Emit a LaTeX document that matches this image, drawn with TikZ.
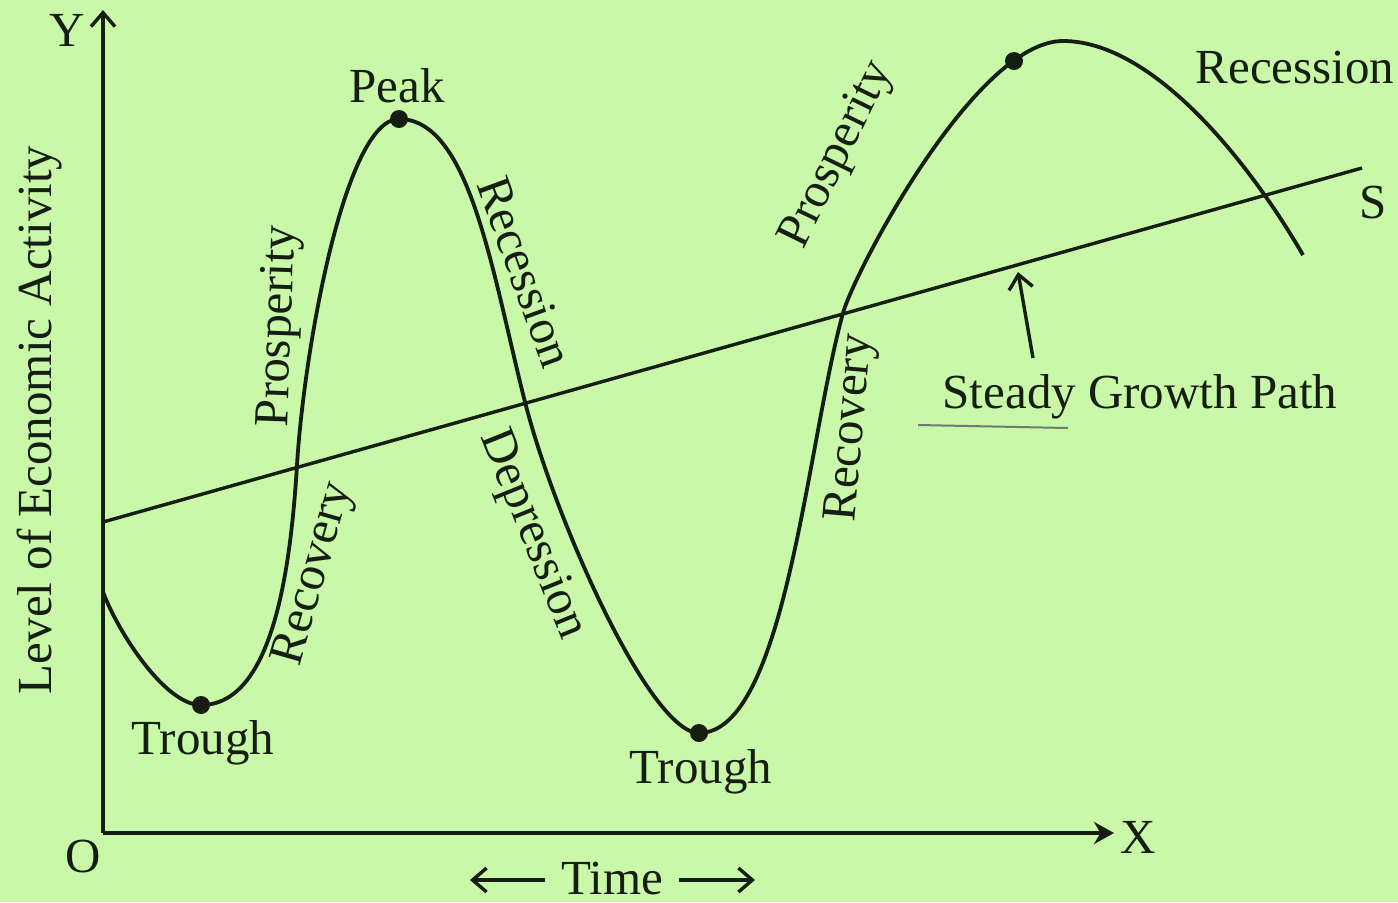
\documentclass[tikz,border=0pt]{standalone}
\usepackage{fontspec}
\setmainfont{Liberation Serif}
\usetikzlibrary{arrows.meta}
\definecolor{bg}{RGB}{200,248,168}
\definecolor{ink}{RGB}{22,30,20}
\begin{document}
\begin{tikzpicture}[x=0.5pt,y=-0.5pt,
  lbl/.style={font=\fontsize{24.5}{28}\selectfont, text=ink, inner sep=0pt},
  dot/.style={circle, fill=ink, inner sep=0pt, minimum size=9pt},
  curve/.style={draw=ink, line width=1.9pt},
  thinline/.style={draw=ink, line width=1.7pt},
  axis/.style={draw=ink, line width=2.2pt},
  barb/.style={-{Straight Barb[length=7pt,width=12pt,line width=1.7pt]}}]
\fill[bg] (0,0) rectangle (1398,902);
\useasboundingbox (0,0) rectangle (1398,902);

% axes
\coordinate (O) at (103,833);
\coordinate (Ytip) at (103,10);
\coordinate (Xtip) at (1114,833);
\draw[axis,barb] (O) -- (Ytip);
\draw[axis,-{Stealth[length=10pt,width=11pt]}] (O) -- (Xtip);
\node[lbl] (Ylab) at (67,30) {Y};
\node[lbl] (Xlab) at (1138,837) {X};
\node[lbl] (Olab) at (83,856) {O};
\node[lbl, rotate=90] (ylab) at (40,420) {Level of Economic Activity};

% time
\node[lbl] (time) at (612,878) {Time};
\coordinate (tl) at (470,880);
\coordinate (tr) at (755,880);
\draw[thinline,barb] ([xshift=-8pt,yshift=-1pt]time.west) -- (tl);
\draw[thinline,barb] ([xshift=8pt,yshift=-1pt]time.east) -- (tr);

% steady growth path
\coordinate (S0) at (103,522);
\coordinate (S1) at (1362,168);
\draw[thinline] (S0) -- (S1);
\node[lbl] (Slab) at (1373,203) {S};

% business cycle curve
\coordinate (c0) at (103,592);
\coordinate (T1) at (201,705);
\coordinate (x1) at (297,465);
\coordinate (P1) at (399,119);
\coordinate (x2) at (525,402);
\coordinate (T2) at (699,733);
\coordinate (x3) at (843,313);
\coordinate (P2) at (1063,41);
\coordinate (c9) at (1303,255);
\draw[curve] (c0)
  .. controls (118,632) and (165,705) .. (T1)
  .. controls (270,705) and (290,580) .. (x1)
  .. controls (304,350) and (345,119) .. (P1)
  .. controls (470,119) and (492,272) .. (x2)
  .. controls (555,520) and (650,733) .. (T2)
  .. controls (785,733) and (807,443) .. (x3)
  .. controls (854,273) and (975,41) .. (P2)
  .. controls (1150,41) and (1245,155) .. (c9);

% dots
\node[dot] (trough1) at (T1) {};
\node[dot] (peak1) at (P1) {};
\node[dot] (trough2) at (T2) {};
\node[dot] (peak2) at (1014,61) {};

% labels
\node[lbl] (peaklab) at (397,86) {Peak};
\node[lbl] (tr1lab) at (203,743) {Trough};
\node[lbl] (tr2lab) at (701,772) {Trough};
\node[lbl, rotate=88] (prosL) at (280,326) {Prosperity};
\node[lbl, rotate=74] (recovL) at (315,574) {Recovery};
\node[lbl, rotate=-70] (recessM) at (525,272) {Recession};
\node[lbl, rotate=-68] (depM) at (532,535) {Depression};
\node[lbl, rotate=85] (recovR) at (852,428) {Recovery};
\node[lbl, rotate=64] (prosR) at (838,155) {Prosperity};
\node[lbl] (recessR) at (1295,68) {Recession};
\node[lbl] (sgp) at (1140,397) {Steady Growth Path};

% arrow to growth path
\coordinate (ga0) at (1033,358);
\coordinate (ga) at (1018,272);
\draw[thinline,barb] (ga0) -- (ga);
\draw[draw=ink!60, line width=1pt] (918,425) -- (1068,428);
\end{tikzpicture}
\end{document}
